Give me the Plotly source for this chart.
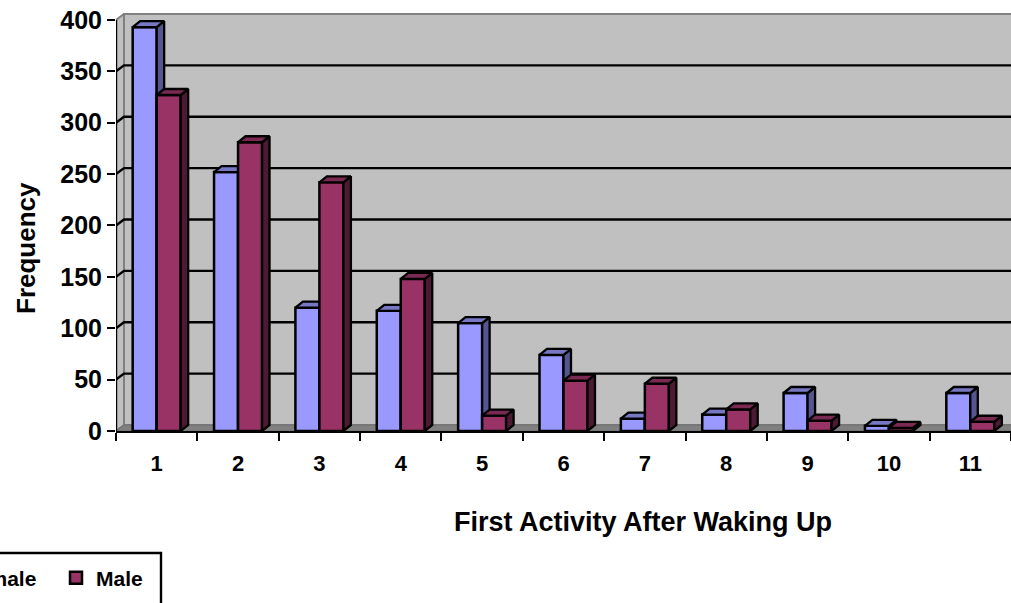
import plotly.graph_objects as go

categories = list(range(1, 12))
female = [393, 252, 120, 117, 105, 74, 12, 16, 37, 5, 37]
male = [327, 281, 242, 148, 15, 49, 46, 21, 10, 3, 9]
y_ticks = [0, 50, 100, 150, 200, 250, 300, 350, 400]

FONT = "Liberation Sans"
X0, X1 = 0.5, 11.5
Y1 = 406.8
WALL_DX, WALL_DY = 0.098, 5.84
BAR_W = 0.295
BAR_DX, BAR_DY = 0.092, 5.84


def faces(values, start):
    sx, sy, tx, ty = [], [], [], []
    for c, v in zip(categories, values):
        l, r = c + start, c + start + BAR_W
        sx += [r, r + BAR_DX, r + BAR_DX, r, r, None]
        sy += [0, BAR_DY, v + BAR_DY, v, 0, None]
        tx += [l, l + BAR_DX, r + BAR_DX, r, l, None]
        ty += [v, v + BAR_DY, v + BAR_DY, v, v, None]
    return sx, sy, tx, ty


def add_series(fig, name, values, start, front, side, top, xa, ya):
    fig.add_trace(go.Bar(x=categories, y=values, name=name, width=BAR_W, offset=start,
                         marker=dict(color=front, line=dict(color="black", width=2.5)),
                         xaxis=xa, yaxis=ya))
    sx, sy, tx, ty = faces(values, start)
    for px, py, col in ((sx, sy, side), (tx, ty, top)):
        fig.add_trace(go.Scatter(x=px, y=py, mode="lines", fill="toself", fillcolor=col,
                                 line=dict(color="black", width=2.3), showlegend=False,
                                 hoverinfo="skip", xaxis=xa, yaxis=ya))


fig = go.Figure()
add_series(fig, "Female", female, -BAR_W, "#9999FF", "#55558F", "#7777C4", "x", "y")
add_series(fig, "Male", male, 0, "#993366", "#4D1A33", "#7A2952", "x2", "y2")
fig.add_trace(go.Scatter(x=[X0, X0], y=[0, 400], mode="lines", line=dict(color="black", width=2.4),
                         showlegend=False, hoverinfo="skip", cliponaxis=False, xaxis="x2", yaxis="y2"))

GRAY = "#808080"
shapes = [
    dict(type="path", layer="below", xref="x", yref="y", fillcolor="#C0C0C0", line=dict(color=GRAY, width=2),
         path=f"M {X0 + WALL_DX} {WALL_DY} L {X1 + 0.1} {WALL_DY} L {X1 + 0.1} {400 + WALL_DY} L {X0 + WALL_DX} {400 + WALL_DY} Z"),
    dict(type="path", layer="below", xref="x", yref="y", fillcolor="#C0C0C0", line=dict(color=GRAY, width=2),
         path=f"M {X0} 0 L {X0 + WALL_DX} {WALL_DY} L {X0 + WALL_DX} {400 + WALL_DY} L {X0} 400 Z"),
    dict(type="path", layer="below", xref="x", yref="y", fillcolor=GRAY, line=dict(color="#6E6E6E", width=1),
         path=f"M {X0} 0 L {X0 + WALL_DX} {WALL_DY} L {X1 + 0.1} {WALL_DY} L {X1 + 0.1} 0 Z"),
]
for v in y_ticks[1:-1]:
    shapes.append(dict(type="path", layer="below", xref="x", yref="y", line=dict(color="black", width=2.4),
                       path=f"M {X0} {v} L {X0 + WALL_DX} {v + WALL_DY} L {X1 + 0.1} {v + WALL_DY}"))
# legend frame (runs off the page, as in the reference)
shapes.append(dict(type="rect", xref="paper", yref="paper", layer="above",
                   x0=(-20 - 116) / 895, x1=(161 - 116) / 895,
                   y0=(431 - 640) / 418, y1=(431 - 553) / 418,
                   line=dict(color="black", width=2.4), fillcolor="rgba(0,0,0,0)"))

fig.update_layout(
    width=1011, height=603,
    margin=dict(l=116, r=0, t=13, b=172, pad=0, autoexpand=False),
    paper_bgcolor="white", plot_bgcolor="white",
    barmode="overlay", shapes=shapes,
    font=dict(family=FONT, color="black"),
    xaxis=dict(range=[X0, X1], tickvals=categories, ticktext=[str(c) for c in categories],
               ticks="outside", ticklen=11, tickcolor="rgba(0,0,0,0)", tickwidth=1,
               tickfont=dict(size=22, family=FONT, weight="bold"),
               showline=True, linecolor="black", linewidth=2.4, showgrid=False, zeroline=False,
               minor=dict(tickvals=[c - 0.5 for c in categories] + [X1], ticks="outside", ticklen=8,
                          tickwidth=2.2, tickcolor="black", showgrid=False)),
    yaxis=dict(range=[0, Y1], tickvals=y_ticks, ticks="outside", ticklen=8, tickwidth=2.2, tickcolor="black",
               tickfont=dict(size=25, family=FONT, weight="bold"), showgrid=False, zeroline=False),
    xaxis2=dict(range=[X0, X1], overlaying="x", visible=False),
    yaxis2=dict(range=[0, Y1], overlaying="y", visible=False),
    annotations=[
        dict(text="First Activity After Waking Up", xref="paper", yref="paper", x=(643 - 116) / 895,
             y=(431 - 522) / 418, xanchor="center", yanchor="middle", showarrow=False,
             font=dict(size=27, family=FONT, weight="bold")),
        dict(text="Frequency", xref="paper", yref="paper", x=(26 - 116) / 895, y=(431 - 248) / 418,
             xanchor="center", yanchor="middle", textangle=-90, showarrow=False,
             font=dict(size=26, family=FONT, weight="bold")),
    ],
    showlegend=True,
    legend=dict(orientation="h", xref="paper", yref="paper", x=(-76 - 116) / 895, xanchor="left",
                y=(431 - 578) / 418, yanchor="middle", bgcolor="rgba(0,0,0,0)", borderwidth=0,
                entrywidth=87, entrywidthmode="pixels",
                font=dict(size=21, family=FONT, weight="bold")),
)
fig.write_html("out.html", config={"displayModeBar": False}, post_script="document.body.style.margin='0';")
